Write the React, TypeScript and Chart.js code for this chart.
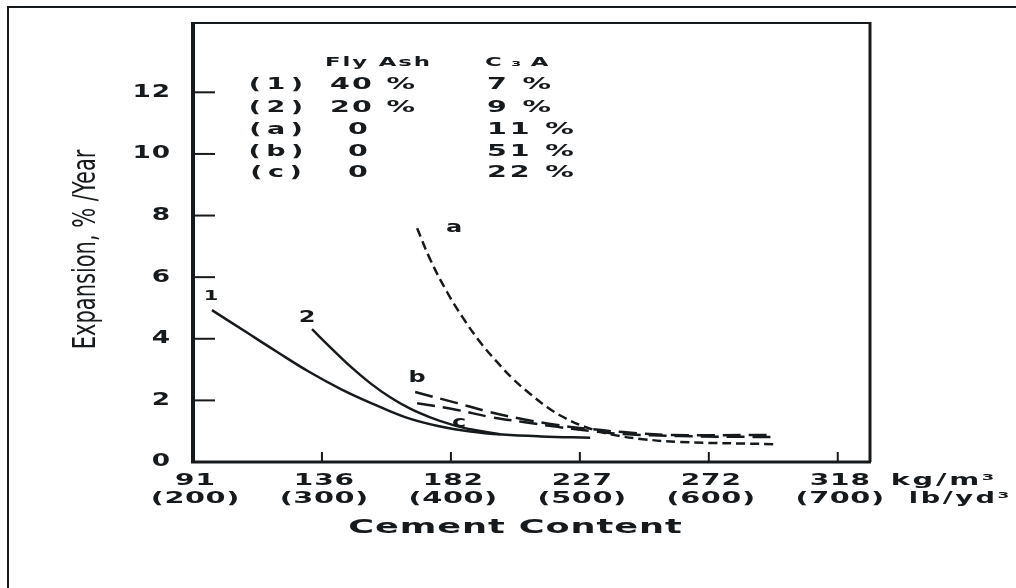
import { useEffect, useRef } from "react";
import { Chart, registerables } from "chart.js";

Chart.register(...registerables);

// ---- data (x in lb/yd^3, y in % / year) ----
const xTickValues = [200, 300, 400, 500, 600, 700];
const kgLabels = ["91", "136", "182", "227", "272", "318"];
const lbLabels = ["(200)", "(300)", "(400)", "(500)", "(600)", "(700)"];
const yTickValues = [0, 2, 4, 6, 8, 10, 12];
const yTickLabels = ["0", "2", "4", "6", "8", "10", "12"];

const curve1X = [214.7, 240, 265, 290, 315, 340, 365, 390, 415, 440, 470, 508];
const curve1Y = [4.93, 4.25, 3.58, 2.93, 2.36, 1.88, 1.45, 1.17, 0.99, 0.89, 0.83, 0.79];

const curve2X = [292.3, 306.3, 321.8, 337.4, 352.9, 368.4, 383.9, 399.4, 415.0, 438.2];
const curve2Y = [4.31, 3.73, 3.11, 2.56, 2.1, 1.73, 1.45, 1.23, 1.06, 0.9];

const curveAX = [373.8, 383.9, 397.1, 409.5, 422.7, 435.9, 448.3, 461.5, 474.7, 487.1, 500.3, 513.5, 525.9, 546.9, 577.9, 650.1];
const curveAY = [7.59, 6.58, 5.51, 4.67, 3.89, 3.24, 2.69, 2.21, 1.78, 1.46, 1.2, 1.01, 0.88, 0.75, 0.65, 0.58];

const curveBX = [372.3, 404.9, 430.5, 456.1, 482.5, 508.1, 533.7, 570.2, 650.1];
const curveBY = [2.27, 1.91, 1.62, 1.39, 1.2, 1.07, 0.97, 0.88, 0.88];

const curveCX = [373.8, 404.9, 430.5, 456.1, 482.5, 508.1, 533.7, 577.9, 647.8];
const curveCY = [1.91, 1.69, 1.46, 1.3, 1.14, 1.01, 0.91, 0.84, 0.81];

const curveLabelText = ["1", "2", "a", "b", "c"];
const curveLabelX = [214, 288.5, 402.5, 373.8, 406.4];
const curveLabelY = [5.38, 4.67, 7.59, 2.72, 1.26];

const tableRowLabels = ["(1)", "(2)", "(a)", "(b)", "(c)"];
const flyAsh = ["40 %", "20 %", "0", "0", "0"];
const c3a = ["7 %", "9 %", "11 %", "51 %", "22 %"];

const X_MIN = 200;
const X_MAX = 725;
const Y_MIN = 0;
const Y_MAX = 14.25;

const INK = "#161a1c";
const FAMILY = '"DejaVu Sans", sans-serif';

type TOpts = { size?: number; weight?: string; sx?: number; ls?: number; align?: "left" | "center" | "right" };

function drawText(ctx: CanvasRenderingContext2D, s: string, x: number, y: number, o: TOpts = {}) {
  const { size = 16, weight = "bold", sx = 1.6, ls = 0, align = "center" } = o;
  ctx.save();
  ctx.font = `${weight} ${size}px ${FAMILY}`;
  (ctx as any).letterSpacing = `${ls}px`;
  const w = ctx.measureText(s).width - ls;
  const total = w * sx;
  const x0 = align === "left" ? x : align === "right" ? x - total : x - total / 2;
  ctx.translate(x0, y);
  ctx.scale(sx, 1);
  ctx.textAlign = "left";
  ctx.textBaseline = "middle";
  ctx.fillStyle = INK;
  ctx.fillText(s, 0, 0);
  ctx.restore();
}

function toPts(xs: number[], ys: number[]) {
  return xs.map((x, i) => ({ x, y: ys[i] }));
}

const decorPlugin = {
  id: "decor",
  afterDraw(chart: any) {
    const ctx: CanvasRenderingContext2D = chart.ctx;
    const xs = chart.scales.x;
    const ys = chart.scales.y;
    const ca = chart.chartArea;
    ctx.save();
    ctx.strokeStyle = INK;
    ctx.lineCap = "butt";

    // outer picture border
    ctx.lineWidth = 2;
    ctx.beginPath();
    ctx.moveTo(8, 600);
    ctx.lineTo(8, 7);
    ctx.lineTo(1030, 7);
    ctx.stroke();

    // plot frame
    ctx.lineWidth = 4;
    ctx.beginPath();
    ctx.moveTo(ca.left, ca.top);
    ctx.lineTo(ca.left, ca.bottom + 1);
    ctx.stroke();
    ctx.lineWidth = 3;
    ctx.beginPath();
    ctx.moveTo(ca.left - 2, ca.bottom);
    ctx.lineTo(ca.right + 1, ca.bottom);
    ctx.stroke();
    ctx.lineWidth = 3;
    ctx.beginPath();
    ctx.moveTo(ca.right, ca.bottom);
    ctx.lineTo(ca.right, ca.top - 1);
    ctx.stroke();
    ctx.lineWidth = 2;
    ctx.beginPath();
    ctx.moveTo(ca.right + 1, ca.top);
    ctx.lineTo(ca.left - 2, ca.top);
    ctx.stroke();

    // y ticks (inside)
    ctx.lineWidth = 2;
    yTickValues.forEach((v) => {
      if (v === 0) return;
      const py = ys.getPixelForValue(v);
      ctx.beginPath();
      ctx.moveTo(ca.left, py);
      ctx.lineTo(ca.left + 22, py);
      ctx.stroke();
    });
    // x ticks (inside)
    xTickValues.forEach((v, i) => {
      if (i === 0) return;
      const px = xs.getPixelForValue(v);
      ctx.beginPath();
      ctx.moveTo(px, ca.bottom);
      ctx.lineTo(px, ca.bottom - 10);
      ctx.stroke();
    });
    ctx.restore();

    // y tick labels
    yTickValues.forEach((v, i) => {
      drawText(ctx, yTickLabels[i], ca.left - 23, ys.getPixelForValue(v), { size: 17, sx: 1.55, ls: 0.5, align: "right" });
    });
    // x tick labels, two lines
    xTickValues.forEach((v, i) => {
      const px = xs.getPixelForValue(v) + 2;
      drawText(ctx, kgLabels[i], px, ca.bottom + 19, { size: 16, sx: 1.75, ls: 0.5, align: "center" });
      drawText(ctx, lbLabels[i], px, ca.bottom + 37, { size: 16, sx: 1.8, ls: 0.3, align: "center" });
    });
    const pLast = xs.getPixelForValue(xTickValues[xTickValues.length - 1]);
    drawText(ctx, "kg/m³", pLast + 53, ca.bottom + 19, { size: 16, sx: 1.8, ls: 1.5, align: "left" });
    drawText(ctx, "lb/yd³", pLast + 71, ca.bottom + 37, { size: 16, sx: 1.7, ls: 1.5, align: "left" });

    // x axis title
    drawText(ctx, "Cement Content", ca.left + 322, ca.bottom + 66, { size: 19, sx: 1.85, ls: 0.5, align: "center" });

    // y axis title (rotated, stretched perpendicular to the text)
    ctx.save();
    ctx.translate(87, (ys.getPixelForValue(3.55) + ys.getPixelForValue(10.25)) / 2);
    ctx.rotate(-Math.PI / 2);
    ctx.scale(1, 1.5);
    ctx.font = `normal 21px ${FAMILY}`;
    ctx.textAlign = "center";
    ctx.textBaseline = "middle";
    ctx.fillStyle = INK;
    ctx.fillText("Expansion, % /Year", 0, 0);
    ctx.restore();

    // legend table
    drawText(ctx, "Fly Ash", 325, 63, { size: 12, sx: 1.9, ls: 1, align: "left" });
    drawText(ctx, "C₃A", 485, 63, { size: 12, sx: 1.9, ls: 5, align: "left" });
    const rowY = [85, 108, 130, 152, 173];
    tableRowLabels.forEach((t, i) => {
      drawText(ctx, t, 276, rowY[i], { size: 15, sx: 1.8, ls: 3, align: "center" });
      if (flyAsh[i] === "0") {
        drawText(ctx, flyAsh[i], 358, rowY[i], { size: 15, sx: 1.9, ls: 1.2, align: "center" });
      } else {
        drawText(ctx, flyAsh[i], 330, rowY[i], { size: 15, sx: 1.9, ls: 1.2, align: "left" });
      }
      drawText(ctx, c3a[i], 487, rowY[i], { size: 15, sx: 1.9, ls: 1.5, align: "left" });
    });

    // curve labels
    curveLabelText.forEach((t, i) => {
      drawText(ctx, t, xs.getPixelForValue(curveLabelX[i]), ys.getPixelForValue(curveLabelY[i]), {
        size: t === "1" ? 14 : 16,
        sx: 1.5,
        align: "center",
      });
    });
  },
};

export default function App() {
  const ref = useRef<HTMLCanvasElement>(null);
  useEffect(() => {
    const canvas = ref.current!;
    const common = {
      borderColor: INK,
      pointRadius: 0,
      borderWidth: 2.5,
      fill: false,
      tension: 0.4,
    };
    const chart = new Chart(canvas, {
      type: "line",
      data: {
        datasets: [
          { label: "(1)", data: toPts(curve1X, curve1Y), ...common },
          { label: "(2)", data: toPts(curve2X, curve2Y), ...common },
          { label: "(a)", data: toPts(curveAX, curveAY), ...common, borderDash: [9, 5] },
          { label: "(b)", data: toPts(curveBX, curveBY), ...common, borderDash: [18, 8] },
          { label: "(c)", data: toPts(curveCX, curveCY), ...common, borderDash: [18, 8] },
        ],
      },
      options: {
        responsive: false,
        animation: false,
        devicePixelRatio: 1,
        layout: { padding: { left: 193, top: 23, right: 1016 - 870, bottom: 588 - 462 } },
        plugins: { legend: { display: false }, tooltip: { enabled: false } },
        scales: {
          x: { type: "linear", min: X_MIN, max: X_MAX, display: false },
          y: { type: "linear", min: Y_MIN, max: Y_MAX, display: false },
        },
      },
      plugins: [decorPlugin],
    });
    return () => chart.destroy();
  }, []);
  return (
    <div style={{ position: "fixed", left: 0, top: 0, width: 1016, height: 588, background: "#fff", overflow: "hidden" }}>
      <canvas ref={ref} width={1016} height={588} style={{ display: "block" }} />
    </div>
  );
}
